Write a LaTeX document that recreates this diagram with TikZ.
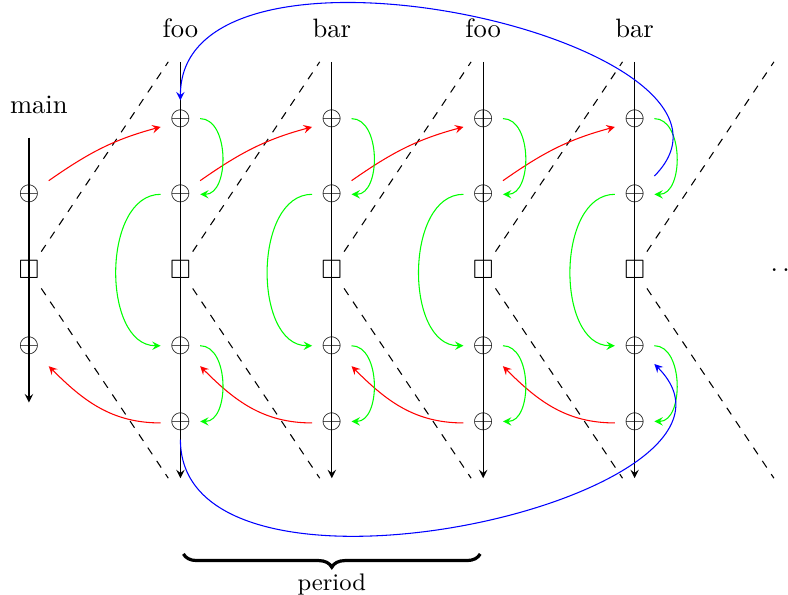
\documentclass[tikz,border=0pt]{standalone}
\usepackage{amssymb}
\usetikzlibrary{decorations.pathreplacing}
\begin{document}
\begin{tikzpicture}[>=stealth,
  axisline/.style={->},
  cutline/.style={dashed},
  redarr/.style={->,red},
  greenarr/.style={->,green},
  bluearr/.style={->,blue},
  lbl/.style={anchor=base},
  bracestyle/.style={very thick,decorate,decoration={brace,amplitude=5pt,mirror}}]
\useasboundingbox (-0.383,-4.28) rectangle (10.026,3.567);

% main column
\coordinate (mtop) at (0,1.75);
\coordinate (mbot) at (0,-1.75);
\draw[axisline] (mtop) -- (mbot);
\node[lbl] (lmain) at (0.13,2.07) {main};
\node (b0) at (0,1) {$\oplus$};
\node (s0) at (0,0) {$\square$};
\node (d0) at (0,-1) {$\oplus$};

% other columns
\foreach \i/\name in {1/foo,2/bar,3/foo,4/bar} {
  \coordinate (t\i) at (2*\i,2.75);
  \coordinate (u\i) at (2*\i,-2.75);
  \draw[axisline] (t\i) -- (u\i);
  \node[lbl] (l\i) at (2*\i,3.07) {\name};
  \node (a\i) at (2*\i,2) {$\oplus$};
  \node (b\i) at (2*\i,1) {$\oplus$};
  \node (s\i) at (2*\i,0) {$\square$};
  \node (d\i) at (2*\i,-1) {$\oplus$};
  \node (e\i) at (2*\i,-2) {$\oplus$};
}

% dashed cuts
\foreach \i in {0,...,4} {
  \coordinate (p\i) at (2*\i+1.84,2.75);
  \coordinate (q\i) at (2*\i+1.84,-2.75);
  \draw[cutline] (s\i) -- (p\i);
  \draw[cutline] (s\i) -- (q\i);
}

% red arrows
\foreach \i/\j in {0/1,1/2,2/3,3/4} {
  \draw[redarr] ([yshift=0.18cm]b\i.east) to[out=35,in=195] ([yshift=-0.11cm]a\j.west);
  \draw[redarr] ([yshift=-0.02cm]e\j.west) to[out=180,in=-45] ([yshift=-0.27cm]d\i.east);
}

% green arrows
\foreach \i in {1,...,4} {
  \draw[greenarr] (a\i.east) to[out=0,in=0] (b\i.east);
  \draw[greenarr] (b\i.west) to[out=180,in=180] (d\i.west);
  \draw[greenarr] (d\i.east) to[out=0,in=0] (e\i.east);
}

% blue arrows
\draw[bluearr] (b4.north east) .. controls (10,3) and (2,4.8) .. (a1.north);
\draw[bluearr] (e1.south) .. controls (2,-4.8) and (10,-3) .. (d4.south east);

% dots
\node (dots) at (10,0) {$\dots$};

% period brace
\coordinate (br1) at (2.04,-3.75);
\coordinate (br2) at (5.96,-3.75);
\draw[bracestyle] (br1) -- (br2);
\node[lbl,font=\small] (per) at (4,-4.23) {period};
\end{tikzpicture}
\end{document}
